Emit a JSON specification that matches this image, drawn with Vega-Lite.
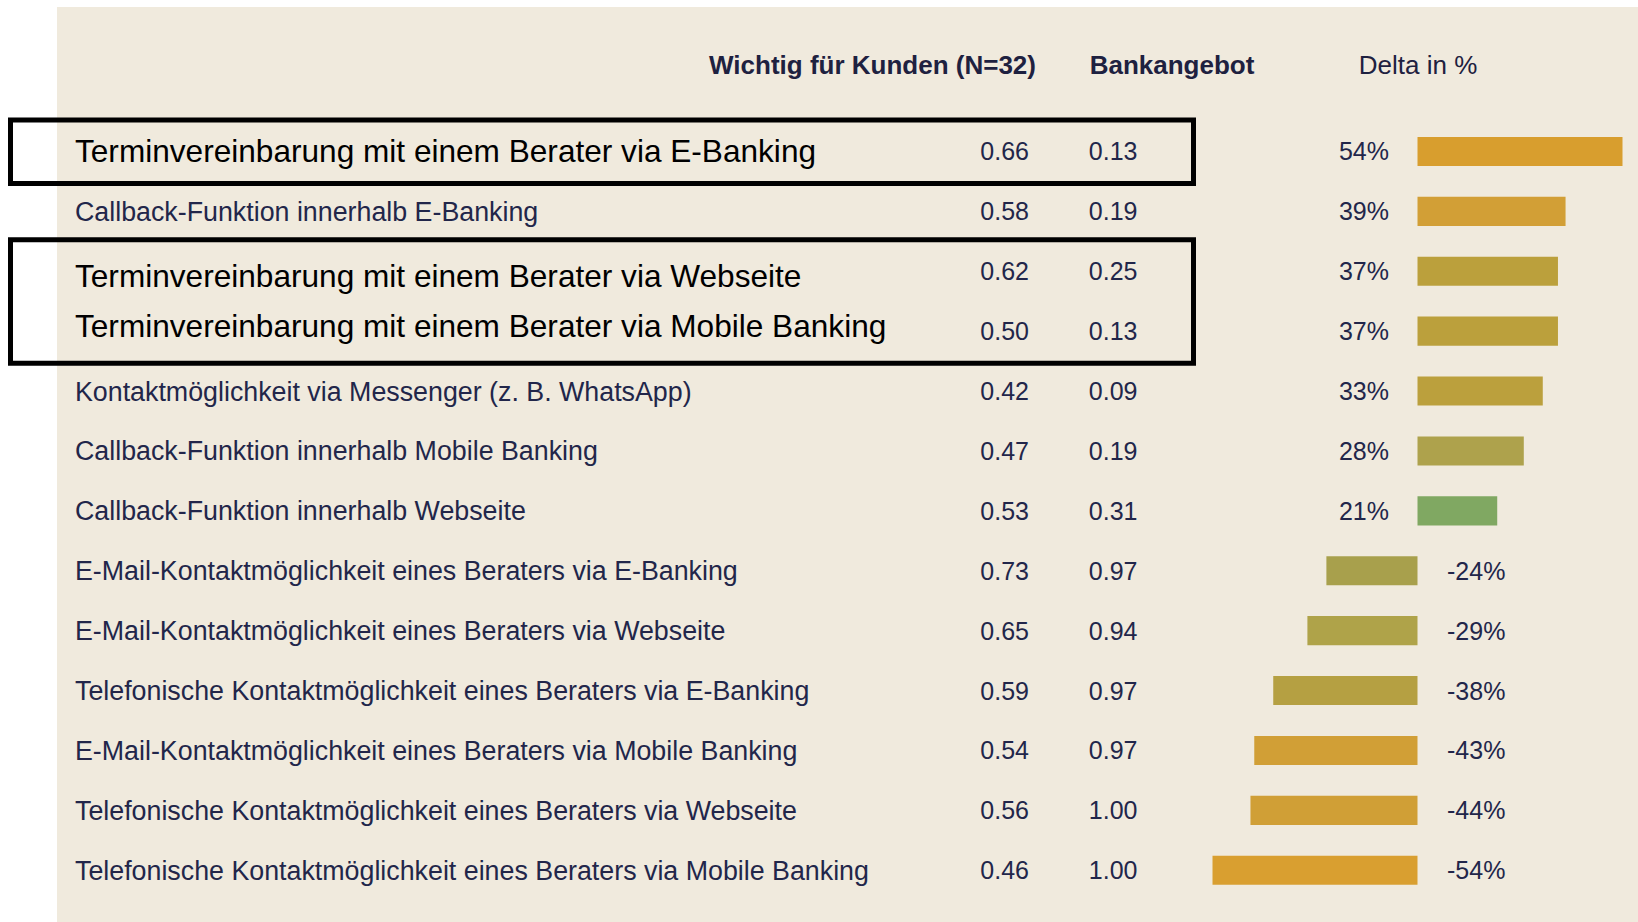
{
  "$schema": "https://vega.github.io/schema/vega-lite/v6.json",
  "width": 1581,
  "height": 915,
  "autosize": {"type": "none"},
  "padding": {"left": 57, "top": 7, "right": 0, "bottom": 0},
  "background": "#ffffff",
  "view": {"fill": "#F0EADD", "stroke": null},
  "config": {
    "locale": {"number": {"decimal": ".", "thousands": ",", "grouping": [3], "currency": ["", ""], "minus": "-"}},
    "font": "Liberation Sans"
  },
  "datasets": {
    "zeilen": [
      {"massnahme": "Terminvereinbarung mit einem Berater via E-Banking", "wichtig": 0.66, "bank": 0.13, "delta": 0.54},
      {"massnahme": "Callback-Funktion innerhalb E-Banking", "wichtig": 0.58, "bank": 0.19, "delta": 0.39},
      {"massnahme": "Terminvereinbarung mit einem Berater via Webseite", "wichtig": 0.62, "bank": 0.25, "delta": 0.37},
      {"massnahme": "Terminvereinbarung mit einem Berater via Mobile Banking", "wichtig": 0.50, "bank": 0.13, "delta": 0.37},
      {"massnahme": "Kontaktmöglichkeit via Messenger (z. B. WhatsApp)", "wichtig": 0.42, "bank": 0.09, "delta": 0.33},
      {"massnahme": "Callback-Funktion innerhalb Mobile Banking", "wichtig": 0.47, "bank": 0.19, "delta": 0.28},
      {"massnahme": "Callback-Funktion innerhalb Webseite", "wichtig": 0.53, "bank": 0.31, "delta": 0.21},
      {"massnahme": "E-Mail-Kontaktmöglichkeit eines Beraters via E-Banking", "wichtig": 0.73, "bank": 0.97, "delta": -0.24},
      {"massnahme": "E-Mail-Kontaktmöglichkeit eines Beraters via Webseite", "wichtig": 0.65, "bank": 0.94, "delta": -0.29},
      {"massnahme": "Telefonische Kontaktmöglichkeit eines Beraters via E-Banking", "wichtig": 0.59, "bank": 0.97, "delta": -0.38},
      {"massnahme": "E-Mail-Kontaktmöglichkeit eines Beraters via Mobile Banking", "wichtig": 0.54, "bank": 0.97, "delta": -0.43},
      {"massnahme": "Telefonische Kontaktmöglichkeit eines Beraters via Webseite", "wichtig": 0.56, "bank": 1.00, "delta": -0.44},
      {"massnahme": "Telefonische Kontaktmöglichkeit eines Beraters via Mobile Banking", "wichtig": 0.46, "bank": 1.00, "delta": -0.54}
    ],
    "rahmen": [
      {"von": "Terminvereinbarung mit einem Berater via E-Banking", "bis": "Terminvereinbarung mit einem Berater via E-Banking"},
      {"von": "Terminvereinbarung mit einem Berater via Webseite", "bis": "Terminvereinbarung mit einem Berater via Mobile Banking"}
    ]
  },
  "layer": [
    {
      "data": {"name": "zeilen"},
      "mark": {"type": "bar", "height": {"band": 0.485}},
      "encoding": {
        "y": {
          "field": "massnahme", "type": "nominal", "sort": null,
          "scale": {"range": [114.5, 893.2], "paddingInner": 0, "paddingOuter": 0},
          "axis": null
        },
        "x": {
          "field": "delta", "type": "quantitative",
          "scale": {"domain": [-0.54, 0.54], "range": [1155.5, 1565.5], "nice": false},
          "axis": {
            "orient": "top", "title": "Delta in %", "labels": false, "ticks": false, "tickSize": 0, "domain": false, "grid": false,
            "titleFont": "Liberation Sans", "titleFontSize": 26, "titleFontWeight": "normal", "titleColor": "#1E2140",
            "titleBaseline": "alphabetic", "titleY": 66, "titlePadding": 0
          }
        },
        "color": {
          "field": "delta", "type": "quantitative", "legend": null,
          "scale": {
            "domain": [-0.54, -0.44, -0.43, -0.38, -0.29, -0.24, 0.21, 0.28, 0.33, 0.37, 0.39, 0.54],
            "range": ["#D99F30", "#D09F36", "#D19F36", "#B5A042", "#AFA349", "#A8A04C", "#80A862", "#AEA24C", "#BBA03D", "#BBA03C", "#D29F36", "#D89E2E"],
            "interpolate": "rgb"
          }
        }
      }
    },
    {
      "data": {"name": "zeilen"},
      "transform": [{"filter": "datum.delta > 0"}],
      "mark": {"type": "text", "align": "right", "baseline": "middle", "dx": -28.5, "dy": 1, "font": "Liberation Sans", "fontSize": 25, "color": "#22264A"},
      "encoding": {
        "x": {"datum": 0, "type": "quantitative", "scale": {"domain": [-0.54, 0.54], "range": [1155.5, 1565.5], "nice": false}, "axis": null},
        "y": {"field": "massnahme", "type": "nominal", "sort": null, "axis": null},
        "text": {"field": "delta", "type": "quantitative", "format": ".0%"}
      }
    },
    {
      "data": {"name": "zeilen"},
      "transform": [{"filter": "datum.delta < 0"}],
      "mark": {"type": "text", "align": "left", "baseline": "middle", "dx": 29.5, "dy": 1, "font": "Liberation Sans", "fontSize": 25, "color": "#22264A"},
      "encoding": {
        "x": {"datum": 0, "type": "quantitative", "scale": {"domain": [-0.54, 0.54], "range": [1155.5, 1565.5], "nice": false}, "axis": null},
        "y": {"field": "massnahme", "type": "nominal", "sort": null, "axis": null},
        "text": {"field": "delta", "type": "quantitative", "format": ".0%"}
      }
    },
    {
      "data": {"name": "zeilen"},
      "transform": [{"fold": ["wichtig", "bank"], "as": ["spalte", "wert"]}],
      "mark": {"type": "text", "align": "right", "baseline": "middle", "dy": 1, "font": "Liberation Sans", "fontSize": 25, "color": "#22264A"},
      "encoding": {
        "x": {
          "field": "spalte", "type": "nominal",
          "scale": {"type": "point", "domain": ["wichtig", "bank"], "range": [972, 1080.5], "padding": 0},
          "axis": {
            "orient": "top", "offset": -66, "title": null, "domain": false, "ticks": false, "tickSize": 0, "grid": false,
            "labelPadding": 0, "labelBaseline": "alphabetic", "labelAlign": "center", "labelAngle": 0, "labelLimit": 600,
            "labelExpr": "datum.value === 'wichtig' ? 'Wichtig für Kunden (N=32)' : 'Bankangebot'",
            "labelOffset": {"condition": {"test": "datum.value === 'wichtig'", "value": -157}, "value": 34},
            "labelFont": "Liberation Sans", "labelFontSize": 26, "labelFontWeight": "bold", "labelColor": "#1E2140"
          }
        },
        "y": {"field": "massnahme", "type": "nominal", "sort": null, "axis": null},
        "text": {"field": "wert", "type": "quantitative", "format": ".2f"}
      }
    },
    {
      "data": {"name": "zeilen"},
      "transform": [{"filter": "indexof(datum.massnahme, 'Terminvereinbarung') !== 0"}],
      "mark": {"type": "text", "align": "left", "baseline": "middle", "dy": 1.5, "font": "Liberation Sans", "fontSize": 26.8, "color": "#22264A"},
      "encoding": {
        "x": {"datum": "Maßnahme", "type": "nominal", "scale": {"type": "point", "domain": ["Maßnahme"], "range": [0, 36], "padding": 0}, "axis": null},
        "y": {"field": "massnahme", "type": "nominal", "sort": null, "axis": null},
        "text": {"field": "massnahme", "type": "nominal"}
      }
    },
    {
      "data": {"name": "zeilen"},
      "transform": [{"filter": "indexof(datum.massnahme, 'Terminvereinbarung') === 0"}],
      "mark": {
        "type": "text", "align": "left", "baseline": "middle", "font": "Liberation Sans", "fontSize": 31.6, "color": "#000000",
        "dy": {"expr": "datum.massnahme === 'Terminvereinbarung mit einem Berater via Webseite' ? 7 : (datum.massnahme === 'Terminvereinbarung mit einem Berater via Mobile Banking' ? -3 : 2)"}
      },
      "encoding": {
        "x": {"datum": "Maßnahme", "type": "nominal", "scale": {"type": "point", "domain": ["Maßnahme"], "range": [0, 36], "padding": 0}, "axis": null},
        "y": {"field": "massnahme", "type": "nominal", "sort": null, "axis": null},
        "text": {"field": "massnahme", "type": "nominal"}
      }
    },
    {
      "data": {"name": "rahmen"},
      "mark": {"type": "rect", "fillOpacity": 0, "stroke": "#000000", "strokeWidth": 5, "yOffset": -31.5, "y2Offset": 32},
      "encoding": {
        "x": {
          "datum": "Rahmen", "type": "nominal",
          "scale": {"type": "band", "domain": ["Rahmen"], "range": [-46.5, 1136.5], "paddingInner": 0, "paddingOuter": 0},
          "axis": null
        },
        "y": {"field": "von", "type": "nominal", "sort": null, "axis": null},
        "y2": {"field": "bis"}
      }
    }
  ],
  "resolve": {"scale": {"x": "independent"}, "axis": {"x": "independent"}}
}
